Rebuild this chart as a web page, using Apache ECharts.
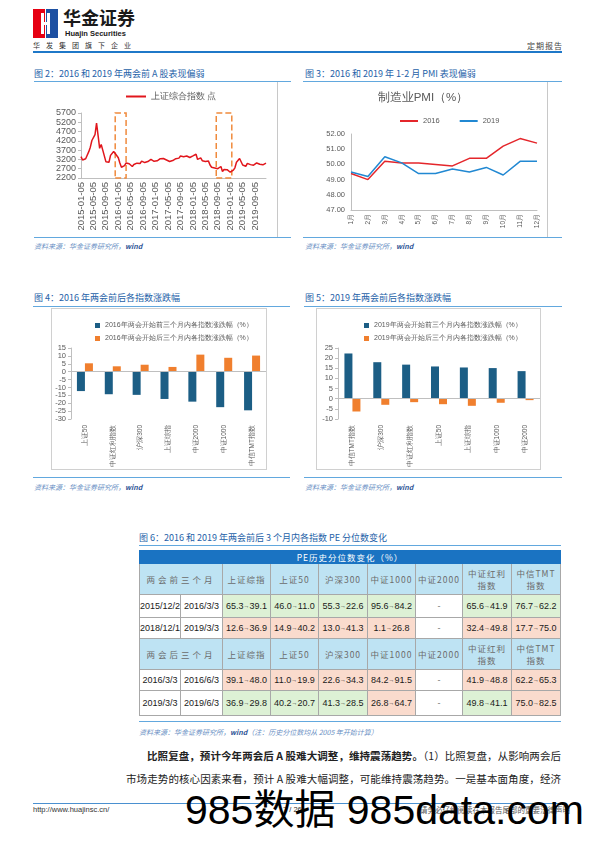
<!DOCTYPE html>
<html><head><meta charset="utf-8">
<script src="https://cdn.jsdelivr.net/npm/echarts/dist/echarts.min.js"></script>
<style>
body{margin:0;background:#fff;}
#page{position:relative;width:596px;height:842px;overflow:hidden;background:#fff;font-family:"Noto Sans CJK SC","Liberation Sans",sans-serif;}
.a{position:absolute;white-space:nowrap;}
.ttl{font-size:9px;color:#2461A8;line-height:12px;}
.hl{height:1px;background:#62A8DE;}
.src{font-size:7px;color:#6A8FC4;font-style:italic;line-height:10px;}
.cell{position:absolute;box-sizing:border-box;display:flex;align-items:center;justify-content:center;text-align:center;border-right:1px solid #A8A8A8;border-bottom:1px solid #A8A8A8;}
.hd{font-size:8.5px;color:#6b6b6b;line-height:12px;letter-spacing:1px;}
.dt{font-family:"Liberation Sans",Arial,sans-serif;font-size:9px;color:#1a1a1a;}
.arr{font-size:6px;}
</style></head>
<body><div id="page">
<!-- header -->
<div class="a" style="left:33px;top:9px;width:12px;height:29px;background:#E60012;"></div>
<div class="a" style="left:46px;top:9px;width:12px;height:29px;background:#1D50A2;"></div>
<div class="a" style="left:41px;top:13px;width:3px;height:21px;background:#fff;"></div>
<div class="a" style="left:47px;top:13px;width:3px;height:21px;background:#fff;"></div>
<div class="a" style="left:41px;top:22px;width:9px;height:3px;background:#fff;"></div>
<div class="a" style="left:63px;top:6px;font-size:18px;font-weight:bold;color:#1a1a1a;line-height:22px;letter-spacing:0px;">华金证券</div>
<div class="a" style="left:65px;top:29px;font-size:7.5px;font-weight:bold;color:#1a1a1a;font-family:'Liberation Sans',Arial;line-height:9px;">Huajin Securities</div>
<div class="a" style="left:33px;top:41px;font-size:7px;color:#333;letter-spacing:6px;line-height:9px;">华发集团旗下企业</div>
<div class="a" style="left:527px;top:41px;font-size:8px;color:#444;letter-spacing:1px;line-height:10px;">定期报告</div>
<div class="a" style="left:33px;top:51px;width:529px;height:1.5px;background:#1F78C8;"></div>

<!-- fig 2 / fig 3 -->
<div class="a ttl" style="left:34px;top:68px;">图 2：2016 和 2019 年两会前 A 股表现偏弱</div>
<div class="a hl" style="left:34px;top:81px;width:257px;"></div>
<div class="a ttl" style="left:305px;top:68px;">图 3：2016 和 2019 年 1-2 月 PMI 表现偏弱</div>
<div class="a hl" style="left:303px;top:81px;width:259px;"></div>
<div id="c2" class="a" style="left:28px;top:82px;width:250px;height:155px;"></div>
<div id="c3" class="a" style="left:298px;top:82px;width:250px;height:155px;"></div>
<div class="a" style="left:277px;top:82px;width:1px;height:155px;background:#C8C8C8;"></div>
<div class="a" style="left:547px;top:82px;width:1px;height:155px;background:#C8C8C8;"></div>
<div class="a hl" style="left:34px;top:237px;width:257px;"></div>
<div class="a hl" style="left:303px;top:237px;width:259px;"></div>
<div class="a src" style="left:34px;top:241px;">资料来源：华金证券研究所，<b style="color:#2F5597">wind</b></div>
<div class="a src" style="left:305px;top:241px;">资料来源：华金证券研究所，<b style="color:#2F5597">wind</b></div>

<!-- fig 4 / fig 5 -->
<div class="a ttl" style="left:34px;top:292px;">图 4：2016 年两会前后各指数涨跌幅</div>
<div class="a hl" style="left:33px;top:306px;width:257px;"></div>
<div class="a ttl" style="left:305px;top:292px;">图 5：2019 年两会前后各指数涨跌幅</div>
<div class="a hl" style="left:304px;top:306px;width:258px;"></div>
<div class="a" style="left:51px;top:308px;width:216px;height:162px;box-sizing:border-box;border:1px solid #D0D0D0;"></div>
<div class="a" style="left:316px;top:308px;width:225px;height:162px;box-sizing:border-box;border:1px solid #D0D0D0;"></div>
<div id="c4" class="a" style="left:28px;top:308px;width:262px;height:162px;"></div>
<div id="c5" class="a" style="left:298px;top:308px;width:280px;height:162px;"></div>
<div class="a hl" style="left:33px;top:477px;width:257px;"></div>
<div class="a hl" style="left:304px;top:477px;width:258px;"></div>
<div class="a src" style="left:34px;top:482px;">资料来源：华金证券研究所，<b style="color:#2F5597">wind</b></div>
<div class="a src" style="left:305px;top:482px;">资料来源：华金证券研究所，<b style="color:#2F5597">wind</b></div>

<!-- fig 6 -->
<div class="a ttl" style="left:139px;top:532px;">图 6：2016 和 2019 年两会前后 3 个月内各指数 PE 分位数变化</div>
<div class="a hl" style="left:139px;top:545px;width:422px;"></div>
<div id="tbl"></div>
<div class="a hl" style="left:139px;top:721px;width:422px;"></div>
<div class="a src" style="left:139px;top:727px;">资料来源：华金证券研究所，<b style="color:#2F5597">wind</b>（注：历史分位数均从 2005 年开始计算）</div>

<!-- paragraph -->
<div class="a" style="left:147px;top:749px;width:414px;font-size:10.5px;line-height:14px;color:#222;text-align:justify;text-align-last:justify;white-space:normal;"><b>比照复盘，预计今年两会后 A 股难大调整，维持震荡趋势。</b>（1）比照复盘，从影响两会后</div>
<div class="a" style="left:126px;top:772px;width:435px;font-size:10.5px;line-height:14px;color:#222;text-align:justify;text-align-last:justify;white-space:normal;">市场走势的核心因素来看，预计 A 股难大幅调整，可能维持震荡趋势。一是基本面角度，经济</div>

<!-- footer -->
<div class="a" style="left:33px;top:803px;width:529px;height:1px;background:#4A90D0;"></div>
<div class="a" style="left:33px;top:805px;font-size:7.5px;color:#333;font-family:'Liberation Sans',Arial;line-height:9px;">http://www.huajinsc.cn/</div>
<div class="a" style="left:283px;top:805px;font-size:7.5px;color:#333;font-family:'Liberation Sans',Arial;line-height:9px;">7 / 26</div>
<div class="a" style="left:420px;top:805px;font-size:7.5px;color:#555;line-height:9px;">请务必仔细阅读在本报告尾部的重要法律声明</div>
<div class="a" style="left:185px;top:787px;font-size:41px;line-height:46px;color:#000;font-family:'Liberation Sans','Noto Sans CJK SC',sans-serif;">985数据 985data.com</div>
</div>

<script>
// ---------- Figure 2 data: Shanghai Composite (semi-monthly, estimated) ----------
const shDates = [
'2015-01-05','2015-01-20','2015-02-05','2015-02-20','2015-03-05','2015-03-20','2015-04-05','2015-04-20','2015-05-05','2015-05-20','2015-06-05','2015-06-20',
'2015-07-05','2015-07-20','2015-08-05','2015-08-20','2015-09-05','2015-09-20','2015-10-05','2015-10-20','2015-11-05','2015-11-20','2015-12-05','2015-12-20',
'2016-01-05','2016-01-20','2016-02-05','2016-02-20','2016-03-05','2016-03-20','2016-04-05','2016-04-20','2016-05-05','2016-05-20','2016-06-05','2016-06-20',
'2016-07-05','2016-07-20','2016-08-05','2016-08-20','2016-09-05','2016-09-20','2016-10-05','2016-10-20','2016-11-05','2016-11-20','2016-12-05','2016-12-20',
'2017-01-05','2017-01-20','2017-02-05','2017-02-20','2017-03-05','2017-03-20','2017-04-05','2017-04-20','2017-05-05','2017-05-20','2017-06-05','2017-06-20',
'2017-07-05','2017-07-20','2017-08-05','2017-08-20','2017-09-05','2017-09-20','2017-10-05','2017-10-20','2017-11-05','2017-11-20','2017-12-05','2017-12-20',
'2018-01-05','2018-01-20','2018-02-05','2018-02-20','2018-03-05','2018-03-20','2018-04-05','2018-04-20','2018-05-05','2018-05-20','2018-06-05','2018-06-20',
'2018-07-05','2018-07-20','2018-08-05','2018-08-20','2018-09-05','2018-09-20','2018-10-05','2018-10-20','2018-11-05','2018-11-20','2018-12-05','2018-12-20',
'2019-01-05','2019-01-20','2019-02-05','2019-02-20','2019-03-05','2019-03-20','2019-04-05','2019-04-20','2019-05-05','2019-05-20','2019-06-05','2019-06-20',
'2019-07-05','2019-07-20','2019-08-05','2019-08-20','2019-09-05','2019-09-20','2019-10-05','2019-10-20','2019-11-05','2019-11-20','2019-12-05','2019-12-20'
];
const shValues = [
3350,3170,3175,3240,3250,3620,3860,4220,4300,4530,5150,4480,
3800,4000,3700,3790,3080,3100,3050,3420,3460,3630,3520,3580,
3290,3010,2780,2860,2870,3010,3050,2970,2990,2820,2930,2890,
3000,3030,2980,3110,3090,3030,3005,3085,3130,3200,3205,3100,
3165,3125,3140,3240,3220,3250,3270,3170,3100,3090,3100,3140,
3200,3240,3265,3270,3385,3365,3350,3380,3385,3400,3305,3290,
3390,3490,3480,3200,3260,3280,3130,3070,3090,3190,3110,2900,
2780,2830,2740,2670,2700,2730,2820,2550,2660,2650,2650,2550,
2510,2590,2620,2750,3050,3090,3250,3270,2900,2870,2830,2990,
3010,2920,2820,2890,2990,3010,2910,2940,2980,2910,2900,3000
];
const shName = '上证综合指数 点';
const box2016 = ['2015-12-05','2016-03-20'];
const box2019 = ['2018-08-20','2019-01-20'];

// ---------- Figure 3 data: manufacturing PMI ----------
const pmiMonths = ['1月','2月','3月','4月','5月','6月','7月','8月','9月','10月','11月','12月'];
const pmi2016 = [49.4,49.0,50.2,50.1,50.1,50.0,49.9,50.4,50.4,51.2,51.7,51.4];
const pmi2019 = [49.5,49.2,50.5,50.1,49.4,49.4,49.7,49.5,49.8,49.3,50.2,50.2];

// ---------- Figure 4 data ----------
const cat2016 = ['上证50','中证红利指数','沪深300','上证综指','中证2000','中证1000','中信TMT指数'];
const before2016 = [-12.3,-14.3,-14.7,-17.3,-19.0,-22.5,-24.5];
const after2016 = [5.3,3.4,4.4,3.0,10.8,8.8,10.2];
const name2016a = '2016年两会开始前三个月内各指数涨跌幅（%）';
const name2016b = '2016年两会开始后三个月内各指数涨跌幅（%）';

// ---------- Figure 5 data ----------
const cat2019 = ['中信TMT指数','沪深300','中证红利指数','上证50','上证综指','中证1000','中证2000'];
const before2019 = [22.3,18.0,16.8,15.9,15.4,15.1,13.6];
const after2019 = [-6.3,-3.0,-1.7,-2.7,-3.5,-2.0,-0.7];
const name2019a = '2019年两会开始前三个月内各指数涨跌幅（%）';
const name2019b = '2019年两会开始后三个月内各指数涨跌幅（%）';

// ---------- Figure 6 table data ----------
const tblTitle = 'PE历史分位数变化（%）';
const tblCols = ['上证综指','上证50','沪深300','中证1000','中证2000','中证红利<br>指数','中信TMT<br>指数'];
const tblBeforeLabel = '两会前三个月';
const tblAfterLabel = '两会后三个月';
const peBeforeRows = [
  {from:'2015/12/2', to:'2016/3/3', vals:[[65.3,39.1],[46.0,11.0],[55.3,22.6],[95.6,84.2],null,[65.6,41.9],[76.7,62.2]]},
  {from:'2018/12/1', to:'2019/3/3', vals:[[12.6,36.9],[14.9,40.2],[13.0,41.3],[1.1,26.8],null,[32.4,49.8],[17.7,75.0]]}
];
const peAfterRows = [
  {from:'2016/3/3', to:'2016/6/3', vals:[[39.1,48.0],[11.0,19.9],[22.6,34.3],[84.2,91.5],null,[41.9,48.8],[62.2,65.3]]},
  {from:'2019/3/3', to:'2019/6/3', vals:[[36.9,29.8],[40.2,20.7],[41.3,28.5],[26.8,64.7],null,[49.8,41.1],[75.0,82.5]]}
];

// ================= rendering =================
const gray = '#595959', axisGray = '#BFBFBF';
const plain = v => String(v);

const c2 = echarts.init(document.getElementById('c2'));
c2.setOption({
  animation:false,
  legend:{data:[shName], top:5, left:93, icon:'rect', itemWidth:20, itemHeight:2, textStyle:{fontSize:8.5,color:gray}},
  grid:{left:53,right:12,top:31,bottom:59},
  xAxis:{type:'category',data:shDates,boundaryGap:false,
    axisLine:{lineStyle:{color:axisGray}},axisTick:{show:false},
    axisLabel:{rotate:90,interval:7,fontSize:9.5,color:gray,margin:4,fontFamily:'Liberation Sans'}},
  yAxis:{type:'value',min:2200,max:5700,interval:500,
    axisLine:{show:true,lineStyle:{color:axisGray}},axisTick:{show:true,length:3,lineStyle:{color:axisGray}},
    splitLine:{show:false},axisLabel:{fontSize:9,color:gray,margin:5,fontFamily:'Liberation Sans',formatter:plain}},
  series:[{name:shName,type:'line',data:shValues,showSymbol:false,
    lineStyle:{color:'#E1161C',width:1.5},itemStyle:{color:'#E1161C'},
    markArea:{silent:true,itemStyle:{color:'rgba(0,0,0,0)',borderColor:'#F08A3C',borderWidth:1.5,borderType:'dashed'},
      data:[[{xAxis:box2016[0]},{xAxis:box2016[1]}],[{xAxis:box2019[0]},{xAxis:box2019[1]}]]}}]
});

const c3 = echarts.init(document.getElementById('c3'));
c3.setOption({
  animation:false,
  title:{text:'制造业PMI（%）',left:'center',top:5,textStyle:{fontSize:11.5,fontWeight:'normal',color:gray}},
  legend:{data:['2016','2019'],top:30,left:97,icon:'rect',itemWidth:18,itemHeight:2,itemGap:20,textStyle:{fontSize:7.5,color:gray}},
  grid:{left:53,right:11,top:52,bottom:27},
  xAxis:{type:'category',data:pmiMonths,boundaryGap:false,
    axisLine:{lineStyle:{color:axisGray}},axisTick:{show:false},
    axisLabel:{rotate:90,interval:0,fontSize:6.5,color:gray,margin:4}},
  yAxis:{type:'value',min:47,max:52,interval:1,
    axisLine:{show:true,lineStyle:{color:axisGray}},axisTick:{show:false},splitLine:{show:false},
    axisLabel:{fontSize:7.5,color:gray,margin:6,fontFamily:'Liberation Sans',formatter:v=>v.toFixed(2)}},
  series:[
    {name:'2016',type:'line',data:pmi2016,showSymbol:false,lineStyle:{color:'#E4262B',width:1.5},itemStyle:{color:'#E4262B'}},
    {name:'2019',type:'line',data:pmi2019,showSymbol:false,lineStyle:{color:'#2188D2',width:1.5},itemStyle:{color:'#2188D2'}}
  ]
});

function barOpt(cats,a,b,na,nb,ymin,ymax,grid,legLeft){
  return {
    animation:false,
    legend:{data:[na,nb],orient:'vertical',left:legLeft,top:9,icon:'rect',itemWidth:5,itemHeight:5,itemGap:6,
      textStyle:{fontSize:7,color:gray}},
    grid:grid,
    xAxis:{type:'category',data:cats,axisLine:{show:false,onZero:false},axisTick:{show:false},
      axisLabel:{rotate:90,interval:0,fontSize:6.5,color:gray,margin:6}},
    yAxis:{type:'value',min:ymin,max:ymax,interval:5,
      axisLine:{show:true,lineStyle:{color:axisGray}},axisTick:{show:true,length:3,lineStyle:{color:axisGray}},
      splitLine:{show:false},axisLabel:{fontSize:7.5,color:gray,margin:5,fontFamily:'Liberation Sans'}},
    series:[
      {name:na,type:'bar',data:a,barWidth:8,barGap:'0%',itemStyle:{color:'#1C5E85'},
        markLine:{silent:true,symbol:'none',label:{show:false},lineStyle:{color:axisGray,width:1,type:'solid'},data:[{yAxis:0}]}},
      {name:nb,type:'bar',data:b,barWidth:8,barGap:'0%',itemStyle:{color:'#F07F2E'}}
    ]
  };
}
echarts.init(document.getElementById('c4')).setOption(
  barOpt(cat2016,before2016,after2016,name2016a,name2016b,-30,15,{left:43,right:24,top:40,bottom:49},62));
echarts.init(document.getElementById('c5')).setOption(
  barOpt(cat2019,before2019,after2019,name2019a,name2019b,-10,25,{left:40,right:38,top:40,bottom:49},61));

// ---------- table ----------
(function(){
  const colX=[139,181,223,271,319,368,416,463,512,561];
  const rowY=[550,564,595,618,639,670,691,716];
  const host=document.getElementById('page');
  const GREEN='#DDF1D5', RED='#FADBCD', HEAD='#BEE3F3', DARK='#1A73C2';
  function cell(x0,x1,y0,y1,html,cls,bg,extra){
    const d=document.createElement('div');
    d.className='cell '+cls;
    d.style.left=x0+'px';d.style.top=y0+'px';d.style.width=(x1-x0)+'px';d.style.height=(y1-y0)+'px';
    d.style.background=bg;
    if(extra) Object.assign(d.style,extra);
    d.innerHTML=html;host.appendChild(d);return d;
  }
  cell(colX[0],colX[9],rowY[0],rowY[1],tblTitle,'hd',DARK,{color:'#fff',border:'none'});
  function headerRow(y0,y1,label){
    cell(colX[0],colX[2],y0,y1,label,'hd',HEAD,{borderLeft:'1px solid #A8A8A8',letterSpacing:'3px'});
    tblCols.forEach((t,i)=>cell(colX[i+2],colX[i+3],y0,y1,t,'hd',HEAD));
  }
  function dataRow(y0,y1,r){
    cell(colX[0],colX[1],y0,y1,r.from,'dt','#fff',{borderLeft:'1px solid #A8A8A8'});
    cell(colX[1],colX[2],y0,y1,r.to,'dt','#fff');
    r.vals.forEach((v,i)=>{
      if(!v){cell(colX[i+2],colX[i+3],y0,y1,'-','dt','#fff',{color:'#777'});return;}
      const bg = v[1] < v[0] ? GREEN : RED;
      cell(colX[i+2],colX[i+3],y0,y1,v[0].toFixed(1)+'<span class="arr">→</span>'+v[1].toFixed(1),'dt',bg);
    });
  }
  headerRow(rowY[1],rowY[2],tblBeforeLabel);
  dataRow(rowY[2],rowY[3],peBeforeRows[0]);
  dataRow(rowY[3],rowY[4],peBeforeRows[1]);
  headerRow(rowY[4],rowY[5],tblAfterLabel);
  dataRow(rowY[5],rowY[6],peAfterRows[0]);
  dataRow(rowY[6],rowY[7],peAfterRows[1]);
})();
</script>
</body></html>
